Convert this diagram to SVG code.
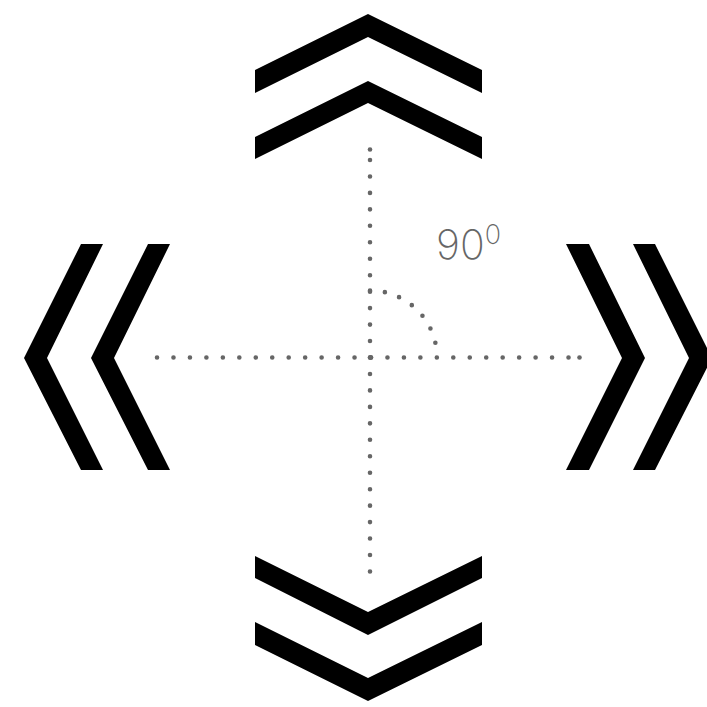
<svg xmlns="http://www.w3.org/2000/svg" width="707" height="707" viewBox="0 0 707 707">
<style>
.chev{fill:#000;}
.dot{fill:none;stroke:#666;stroke-width:4.6;stroke-linecap:round;stroke-dasharray:0 16.46;}
.arc{fill:none;stroke:#666;stroke-width:4.6;stroke-linecap:round;stroke-dasharray:0 15.03;}
.enddot{fill:#666;}
.lbl{font-family:Inter,"Open Sans","Liberation Sans",sans-serif;font-weight:200;fill:#666;}
</style>
<rect width="707" height="707" fill="#fff"/>
<g id="chevrons-up">
<polygon class="chev" points="255,70 368,14 482,70 482,93 368,37 255,93"/>
<polygon class="chev" points="255,137 368,81 482,137 482,159 368,103 255,159"/>
</g>
<g id="chevrons-down">
<polygon class="chev" points="255,556 368,612 482,556 482,578 368,635 255,578"/>
<polygon class="chev" points="255,622 368,678 482,622 482,645 368,701 255,645"/>
</g>
<g id="chevrons-left">
<polygon class="chev" points="81,244 103,244 47,358 103,470 81,470 24,358"/>
<polygon class="chev" points="148,244 170,244 114,358 170,470 148,470 91,358"/>
</g>
<g id="chevrons-right">
<polygon class="chev" points="566,244 589,244 645,358 589,470 566,470 622,358"/>
<polygon class="chev" points="633,244 655,244 712,358 655,470 633,470 689,358"/>
</g>
<g id="connectors">
<path class="dot" d="M370,357.5 V150"/>
<circle class="enddot" cx="370" cy="149.5" r="2.3"/>
<path class="dot" d="M370,357.5 V572"/>
<path class="dot" d="M371,357.5 H156"/>
<path class="dot" d="M371,357.5 H575"/>
<circle class="enddot" cx="579.5" cy="357.5" r="2.3"/>
<path class="arc" d="M370,290.5 A67,67 0 0 1 437,357.5"/>
</g>
<g id="angle-label">
<text class="lbl" x="436" y="258.5" font-size="41">90<tspan font-size="27" dy="-15">0</tspan></text>
</g>
</svg>
